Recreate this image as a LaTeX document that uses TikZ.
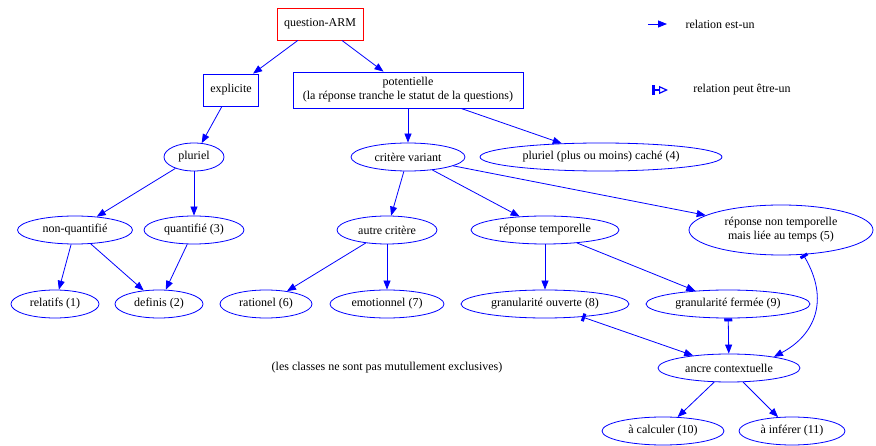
\documentclass[tikz,border=0pt]{standalone}
\usepackage{fontspec}
\setmainfont{Liberation Serif}
\usetikzlibrary{shapes.geometric,arrows.meta}
\definecolor{gblue}{RGB}{0,0,255}
\tikzset{
  every node/.style={font=\fontsize{12}{14}\selectfont},
  ell/.style={ellipse, draw=gblue, line width=0.8pt, minimum height=28pt, inner sep=0pt},
  boxn/.style={rectangle, draw=gblue, line width=0.8pt, align=center, inner sep=0pt},
  isa/.style={draw=gblue, line width=0.8pt, -{Triangle[length=9pt,width=7pt]}},
  peut/.style={draw=gblue, line width=0.8pt, {Rectangle[length=3pt,width=8pt]}-{Triangle[length=9pt,width=7pt]}},
}
\begin{document}
\begin{tikzpicture}[x=1pt,y=-1pt]
\useasboundingbox[fill=white] (0,0) rectangle (876,446);
% boxes
\node[boxn, draw=red, minimum width=86pt, minimum height=32pt] (q) at (320,24) {question-ARM};
\node[boxn, minimum width=55pt, minimum height=32pt] (expl) at (231,90) {explicite};
\node[boxn, minimum width=230pt, minimum height=36pt] (pot) at (408,90) {potentielle\\ (la réponse tranche le statut de la questions)};
% ellipses
\node[ell, minimum width=60pt, label=center:{pluriel}] (plur) at (194,157) {};
\node[ell, minimum width=114pt, label=center:{critère variant}] (crit) at (408,157) {};
\node[ell, minimum width=242pt, label=center:{pluriel (plus ou moins) caché (4)}] (cache) at (601,157) {};
\node[ell, minimum width=115pt, label=center:{non-quantifié}] (nq) at (75,230) {};
\node[ell, minimum width=100pt, label=center:{quantifié (3)}] (quant) at (194,230) {};
\node[ell, minimum width=100pt, label=center:{autre critère}] (autre) at (387,230) {};
\node[ell, minimum width=148pt, label=center:{réponse temporelle}] (rt) at (545,230) {};
\node[ell, minimum width=184pt, minimum height=50pt, label={[align=center]center:réponse non temporelle\\ mais liée au temps (5)}] (n5) at (781,230) {};
\node[ell, minimum width=88pt, label=center:{relatifs (1)}] (rel) at (55,304) {};
\node[ell, minimum width=88pt, label=center:{definis (2)}] (def) at (159,304) {};
\node[ell, minimum width=92pt, label=center:{rationel (6)}] (rat) at (266,304) {};
\node[ell, minimum width=114pt, label=center:{emotionnel (7)}] (emo) at (387,304) {};
\node[ell, minimum width=168pt, label=center:{granularité ouverte (8)}] (g8) at (545,304) {};
\node[ell, minimum width=164pt, label=center:{granularité fermée (9)}] (g9) at (728,304) {};
\node[ell, minimum width=142pt, label=center:{ancre contextuelle}] (ancre) at (729,368) {};
\node[ell, minimum width=122pt, label=center:{à calculer (10)}] (calc) at (663,431) {};
\node[ell, minimum width=106pt, label=center:{à inférer (11)}] (inf) at (792,431) {};
\node (note) at (387,368) {(les classes ne sont pas mutullement exclusives)};
% edges
\draw[isa] (q) -- (expl);
\draw[isa] (q) -- (pot);
\draw[isa] (expl) -- (plur);
\draw[isa] (pot) -- (crit);
\draw[isa] (pot) -- (cache);
\draw[isa] (plur) -- (nq);
\draw[isa] (plur) -- (quant);
\draw[isa] (nq) -- (rel);
\draw[isa] (nq) -- (def);
\draw[isa] (quant) -- (def);
\draw[isa] (crit) -- (autre);
\draw[isa] (crit) -- (rt);
\draw[isa] (crit) -- (n5);
\draw[isa] (autre) -- (rat);
\draw[isa] (autre) -- (emo);
\draw[isa] (rt) -- (g8);
\draw[isa] (rt) -- (g9);
\draw[peut] (g8) -- (ancre);
\draw[peut] (g9) -- (ancre);
\draw[peut] (n5.-48) .. controls (830,300) and (815,335) .. (ancre.14);
\draw[isa] (ancre) -- (calc);
\draw[isa] (ancre) -- (inf);
% legend
\coordinate (l1a) at (648,24);
\coordinate (l1b) at (667,24);
\draw[isa] (l1a) -- (l1b);
\node (l1t) at (720,24) {relation est-un};
\coordinate (l2a) at (652,90);
\coordinate (l2b) at (668,90);
\draw[draw=gblue, line width=1.2pt, {Rectangle[length=3pt,width=10pt]}-{Triangle[open,length=9pt,width=8pt]}] (l2a) -- (l2b);
\node (l2t) at (742,90) {relation peut être-un};
\end{tikzpicture}
\end{document}
